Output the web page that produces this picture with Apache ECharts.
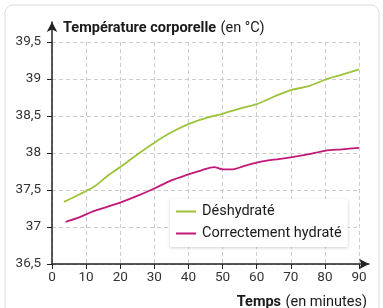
<!DOCTYPE html>
<html>
<head>
<meta charset="utf-8">
<script src="https://cdn.jsdelivr.net/npm/echarts@6/dist/echarts.min.js"></script>
<style>
  html, body { margin: 0; padding: 0; background: #fff; }
  #chart { width: 383px; height: 308px; }
</style>
</head>
<body>
<div id="chart"></div>
<script>
// temps (minutes) et température (°C)
const dehydTimes = [3.5, 8, 12.5, 16, 20, 25, 30, 35, 40, 45, 50, 55, 60, 65, 70, 75, 80, 85, 90];
const dehydValues = [37.34, 37.44, 37.55, 37.68, 37.81, 37.98, 38.14, 38.28, 38.39, 38.47, 38.53, 38.6, 38.66, 38.76, 38.85, 38.9, 38.99, 39.06, 39.13];
const hydTimes = [4, 8, 12, 16, 20, 25, 30, 35, 40, 44, 47.5, 50, 53, 56, 60, 65, 70, 75, 80, 85, 90];
const hydValues = [37.07, 37.13, 37.21, 37.27, 37.33, 37.42, 37.52, 37.63, 37.71, 37.77, 37.81, 37.78, 37.78, 37.82, 37.87, 37.91, 37.94, 37.98, 38.03, 38.05, 38.07];
const seriesNames = ['Déshydraté', 'Correctement hydraté'];
const xTicks = [0, 10, 20, 30, 40, 50, 60, 70, 80, 90];
const yTicks = [36.5, 37, 37.5, 38, 38.5, 39, 39.5];

const green = '#9cc43a';
const magenta = '#c2187a';
const font = 'Roboto';

const chart = echarts.init(document.getElementById('chart'));

const richTitle = {
  b: { fontFamily: font, fontSize: 14.5, fontWeight: 'bold', color: '#1a1a1a' },
  n: { fontFamily: font, fontSize: 14.5, fontWeight: 'normal', color: '#1a1a1a' }
};

const option = {
  backgroundColor: '#fff',
  animation: false,
  textStyle: { fontFamily: font },
  graphic: [{
    type: 'rect',
    shape: { x: 5, y: 5, width: 374, height: 310, r: 8 },
    style: { fill: 'none', stroke: '#dcdcdc', lineWidth: 1 },
    silent: true,
    z: -1
  }],
  title: [{
    left: 58,
    top: 14,
    text: '{b|Température corporelle} {n|(en °C)}',
    textStyle: { fontWeight: 'normal', rich: richTitle }
  }, {
    right: 11,
    top: 288,
    text: '{b|Temps} {n|(en minutes)}',
    textStyle: { fontWeight: 'normal', rich: richTitle }
  }],
  legend: {
    orient: 'vertical',
    left: 170,
    top: 199,
    padding: [5, 6, 6, 6],
    itemGap: 7,
    itemWidth: 20,
    itemHeight: 2,
    icon: 'rect',
    backgroundColor: '#fff',
    shadowColor: 'rgba(0,0,0,0.18)',
    shadowBlur: 3,
    shadowOffsetY: 1,
    textStyle: { fontFamily: font, fontSize: 14.5, color: '#1a1a1a', padding: [0, 0, 0, 1] },
    data: seriesNames
  },
  grid: [
    { left: 52, right: 24, top: 42, bottom: 44 },
    { left: 52, right: 14, top: 22, bottom: 44 }
  ],
  xAxis: [{
    type: 'value',
    gridIndex: 0,
    min: xTicks[0],
    max: xTicks[xTicks.length - 1],
    interval: 10,
    axisLine: { show: false },
    axisTick: { show: true, length: 5, lineStyle: { color: '#222' } },
    axisLabel: { margin: 7, fontSize: 13.5, color: '#333', fontFamily: font },
    splitLine: { show: true, lineStyle: { color: '#cccccc', type: [4, 3] } }
  }, {
    type: 'value',
    gridIndex: 1,
    min: 0, max: 1,
    axisLine: { show: true, symbol: ['none', 'arrow'], symbolSize: [8, 10], lineStyle: { color: '#222', width: 1.5 } },
    axisTick: { show: false },
    axisLabel: { show: false },
    splitLine: { show: false }
  }],
  yAxis: [{
    type: 'value',
    gridIndex: 0,
    min: yTicks[0],
    max: yTicks[yTicks.length - 1],
    interval: 0.5,
    axisLine: { show: false },
    axisTick: { show: true, length: 5, lineStyle: { color: '#222' } },
    axisLabel: {
      margin: 11, fontSize: 13.5, color: '#333', fontFamily: font,
      formatter: v => String(v).replace('.', ',')
    },
    splitLine: { show: true, lineStyle: { color: '#cccccc', type: [4, 3] } }
  }, {
    type: 'value',
    gridIndex: 1,
    min: 0, max: 1,
    axisLine: { show: true, symbol: ['none', 'arrow'], symbolSize: [8, 10], lineStyle: { color: '#222', width: 1.5 } },
    axisTick: { show: false },
    axisLabel: { show: false },
    splitLine: { show: false }
  }],
  series: [{
    name: seriesNames[0],
    type: 'line',
    xAxisIndex: 0,
    yAxisIndex: 0,
    showSymbol: false,
    smooth: 0.3,
    color: green,
    lineStyle: { width: 1.8 },
    data: dehydTimes.map((t, i) => [t, dehydValues[i]])
  }, {
    name: seriesNames[1],
    type: 'line',
    xAxisIndex: 0,
    yAxisIndex: 0,
    showSymbol: false,
    smooth: 0.3,
    color: magenta,
    lineStyle: { width: 1.8 },
    data: hydTimes.map((t, i) => [t, hydValues[i]])
  }]
};

chart.setOption(option);
</script>
</body>
</html>
